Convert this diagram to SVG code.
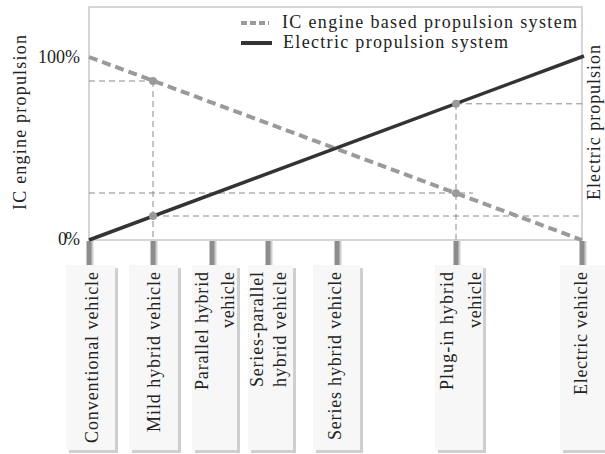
<svg xmlns="http://www.w3.org/2000/svg" width="605" height="454" viewBox="0 0 605 454">
<style>
text{font-family:"Liberation Serif","Times New Roman",serif;font-size:18px;fill:#222}
.box{fill:#f7f7f7}
.shd{fill:#cfcfcf}
.tk{fill:#8c8c8c}
.tks{fill:#cdcdcd}
.guide{stroke:#8a8a8a;stroke-width:1;stroke-dasharray:6 4;fill:none}
.dot{fill:#9a9a9a}
.lbl{text-anchor:end}
</style>
<rect width="605" height="454" fill="#fff"/>
<g id="frame">
<rect x="89" y="7" width="493" height="233" fill="none" stroke="#c8c8c8" stroke-width="1.5"/>
<text x="80" y="62.5" text-anchor="end" textLength="42">100%</text>
<text x="80" y="245" text-anchor="end" textLength="22">0%</text>
<text transform="translate(25.5,122.5) rotate(-90)" text-anchor="middle" textLength="175">IC engine propulsion</text>
<text transform="translate(600,122.5) rotate(-90)" text-anchor="middle" textLength="155">Electric propulsion</text>
</g>
<g id="legend">
<line x1="241" y1="23" x2="269" y2="23" stroke="#9a9a9a" stroke-width="4" stroke-dasharray="6 3"/>
<text x="282" y="27.5" textLength="295">IC engine based propulsion system</text>
<line x1="241" y1="43" x2="272" y2="43" stroke="#333" stroke-width="4"/>
<text x="283" y="48" textLength="225">Electric propulsion system</text>
</g>
<g id="connectors">
<line class="guide" x1="89" y1="81" x2="153" y2="81"/>
<line class="guide" x1="153" y1="81" x2="153" y2="240"/>
<line class="guide" x1="153" y1="216" x2="582" y2="216"/>
<line class="guide" x1="456" y1="103.8" x2="582" y2="103.8"/>
<line class="guide" x1="456" y1="103.8" x2="456" y2="240"/>
<line class="guide" x1="89" y1="193" x2="473" y2="193"/>
<line id="ic-line" x1="89" y1="57" x2="582" y2="240" stroke="#9a9a9a" stroke-width="4" stroke-dasharray="9 5"/>
<line id="ev-line" x1="89" y1="240" x2="584" y2="56" stroke="#333" stroke-width="3.5"/>
<circle class="dot" cx="153" cy="81" r="4"/>
<circle class="dot" cx="153" cy="216" r="4"/>
<circle class="dot" cx="456" cy="103.8" r="4"/>
<circle class="dot" cx="456" cy="193.2" r="4"/>
</g>
<g id="conventional">
<rect class="tks" x="91" y="241" width="2.5" height="24"/><rect class="tk" x="86.5" y="241" width="5" height="24"/>
<rect class="shd" x="69" y="268" width="49" height="185"/><rect class="box" x="66" y="265" width="49" height="185"/>
<text class="lbl" transform="translate(97.5,272) rotate(-90)" textLength="171">Conventional vehicle</text>
</g>
<g id="mild">
<rect class="tks" x="155" y="241" width="2.5" height="24"/><rect class="tk" x="150.5" y="241" width="5" height="24"/>
<rect class="shd" x="132" y="268" width="49" height="185"/><rect class="box" x="129" y="265" width="49" height="185"/>
<text class="lbl" transform="translate(159.5,272) rotate(-90)" textLength="160">Mild hybrid vehicle</text>
</g>
<g id="parallel">
<rect class="tks" x="214" y="241" width="2.5" height="24"/><rect class="tk" x="209.5" y="241" width="5" height="24"/>
<rect class="shd" x="195" y="268" width="45" height="185"/><rect class="box" x="192" y="265" width="45" height="185"/>
<text class="lbl" transform="translate(207.5,272) rotate(-90)" textLength="118">Parallel hybrid</text>
<text class="lbl" transform="translate(233.5,272) rotate(-90)" textLength="56">vehicle</text>
</g>
<g id="series-parallel">
<rect class="tks" x="270" y="241" width="2.5" height="24"/><rect class="tk" x="265.5" y="241" width="5" height="24"/>
<rect class="shd" x="251" y="268" width="45" height="185"/><rect class="box" x="248" y="265" width="45" height="185"/>
<text class="lbl" transform="translate(262.5,272) rotate(-90)" textLength="115">Series-parallel</text>
<text class="lbl" transform="translate(285.5,272) rotate(-90)" textLength="115">hybrid vehicle</text>
</g>
<g id="series">
<rect class="tks" x="339" y="241" width="2.5" height="24"/><rect class="tk" x="334.5" y="241" width="5" height="24"/>
<rect class="shd" x="316" y="268" width="47" height="185"/><rect class="box" x="313" y="265" width="47" height="185"/>
<text class="lbl" transform="translate(340.5,272) rotate(-90)" textLength="168">Series hybrid vehicle</text>
</g>
<g id="plugin">
<rect class="tks" x="458" y="241" width="2.5" height="24"/><rect class="tk" x="453.5" y="241" width="5" height="24"/>
<rect class="shd" x="438" y="268" width="48" height="185"/><rect class="box" x="435" y="265" width="48" height="185"/>
<text class="lbl" transform="translate(452.5,272) rotate(-90)" textLength="118">Plug-in hybrid</text>
<text class="lbl" transform="translate(481,272) rotate(-90)" textLength="56">vehicle</text>
</g>
<g id="electric">
<rect class="tks" x="584" y="241" width="2.5" height="24"/><rect class="tk" x="579.5" y="241" width="5" height="24"/>
<rect class="shd" x="563" y="268" width="45" height="185"/><rect class="box" x="560" y="265" width="45" height="185"/>
<text class="lbl" transform="translate(587,272) rotate(-90)" textLength="123">Electric vehicle</text>
</g>
</svg>
